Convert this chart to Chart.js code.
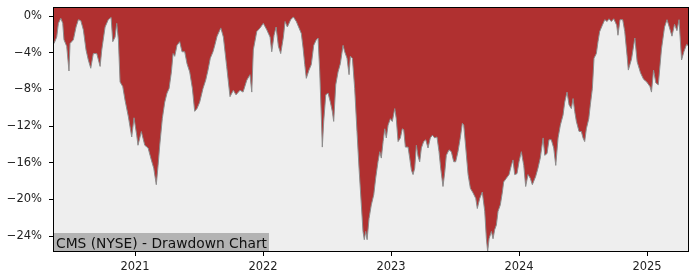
<!DOCTYPE html>
<html>
<head>
<meta charset="utf-8">
<script src="https://cdn.jsdelivr.net/npm/chart.js@4"></script>
<style>
  body { margin: 0; background: #fff; }
</style>
</head>
<body>
<canvas id="myChart" width="700" height="280"></canvas>
<script>
// dates as decimal years, drawdown in percent
const dates = [
  2020.367, 2020.388, 2020.401, 2020.420, 2020.435, 2020.445, 2020.466, 2020.484, 2020.492, 2020.518,
  2020.539, 2020.557, 2020.576, 2020.596, 2020.617, 2020.635, 2020.654, 2020.674, 2020.701, 2020.727,
  2020.740, 2020.766, 2020.791, 2020.813, 2020.826, 2020.844, 2020.857, 2020.870, 2020.883, 2020.904,
  2020.922, 2020.948, 2020.974, 2020.992, 2021.013, 2021.023, 2021.049, 2021.076, 2021.102, 2021.127,
  2021.146, 2021.166, 2021.180, 2021.193, 2021.213, 2021.232, 2021.250, 2021.266, 2021.284, 2021.297,
  2021.310, 2021.328, 2021.349, 2021.367, 2021.388, 2021.406, 2021.427, 2021.448, 2021.466, 2021.484,
  2021.505, 2021.531, 2021.552, 2021.570, 2021.588, 2021.609, 2021.623, 2021.641, 2021.670, 2021.690,
  2021.716, 2021.742, 2021.768, 2021.789, 2021.820, 2021.844, 2021.873, 2021.898, 2021.912, 2021.924,
  2021.951, 2021.977, 2022.002, 2022.029, 2022.055, 2022.068, 2022.086, 2022.102, 2022.120, 2022.138,
  2022.159, 2022.172, 2022.190, 2022.216, 2022.237, 2022.260, 2022.281, 2022.299, 2022.313, 2022.326,
  2022.338, 2022.359, 2022.377, 2022.396, 2022.416, 2022.430, 2022.443, 2022.455, 2022.463, 2022.474,
  2022.490, 2022.508, 2022.526, 2022.541, 2022.552, 2022.568, 2022.586, 2022.604, 2022.625, 2022.638,
  2022.656, 2022.672, 2022.682, 2022.698, 2022.716, 2022.734, 2022.750, 2022.768, 2022.781, 2022.791,
  2022.802, 2022.813, 2022.828, 2022.846, 2022.865, 2022.880, 2022.898, 2022.912, 2022.924, 2022.938,
  2022.951, 2022.963, 2022.977, 2022.995, 2023.010, 2023.029, 2023.041, 2023.055, 2023.073, 2023.088,
  2023.099, 2023.112, 2023.133, 2023.146, 2023.159, 2023.172, 2023.185, 2023.198, 2023.211, 2023.224,
  2023.237, 2023.255, 2023.271, 2023.289, 2023.307, 2023.323, 2023.341, 2023.359, 2023.375, 2023.388,
  2023.406, 2023.420, 2023.432, 2023.453, 2023.471, 2023.490, 2023.505, 2023.523, 2023.541, 2023.557,
  2023.568, 2023.584, 2023.602, 2023.620, 2023.641, 2023.662, 2023.674, 2023.693, 2023.713, 2023.732,
  2023.745, 2023.755, 2023.766, 2023.784, 2023.797, 2023.810, 2023.823, 2023.836, 2023.854, 2023.870,
  2023.880, 2023.901, 2023.922, 2023.940, 2023.953, 2023.966, 2023.984, 2024.000, 2024.018, 2024.037,
  2024.052, 2024.070, 2024.088, 2024.104, 2024.130, 2024.148, 2024.166, 2024.188, 2024.201, 2024.219,
  2024.234, 2024.252, 2024.271, 2024.287, 2024.305, 2024.323, 2024.344, 2024.357, 2024.375, 2024.391,
  2024.409, 2024.422, 2024.435, 2024.448, 2024.469, 2024.487, 2024.500, 2024.513, 2024.526, 2024.545,
  2024.557, 2024.573, 2024.586, 2024.604, 2024.617, 2024.630, 2024.651, 2024.670, 2024.688, 2024.703,
  2024.721, 2024.740, 2024.763, 2024.773, 2024.789, 2024.810, 2024.826, 2024.844, 2024.854, 2024.879,
  2024.905, 2024.923, 2024.949, 2024.973, 2024.998, 2025.023, 2025.035, 2025.051, 2025.069, 2025.088,
  2025.113, 2025.137, 2025.156, 2025.176, 2025.195, 2025.215, 2025.234, 2025.250, 2025.270, 2025.288,
  2025.309, 2025.328
];
const drawdown = [
  -3.0, -2.3, -0.8, -0.25, -0.8, -2.6, -3.3, -6.0, -3.0, -2.6,
  -1.2, -0.4, -0.5, -1.5, -3.7, -4.8, -5.7, -4.1, -4.1, -5.5,
  -3.7, -1.2, -0.4, -0.15, -2.8, -2.3, -0.8, -2.6, -7.2, -7.7,
  -9.2, -11.0, -13.2, -11.1, -13.0, -14.1, -12.6, -14.1, -14.4, -15.7,
  -16.6, -18.4, -16.3, -14.1, -11.2, -9.4, -8.4, -7.9, -6.1, -4.1,
  -4.4, -3.2, -2.8, -3.9, -3.9, -5.2, -6.1, -7.9, -10.4, -10.1,
  -9.4, -7.9, -7.0, -5.9, -4.6, -3.9, -3.2, -2.2, -1.3, -2.3,
  -5.5, -8.8, -8.1, -8.6, -8.1, -8.3, -7.0, -6.4, -8.3, -3.7,
  -1.7, -1.3, -0.8, -1.5, -2.3, -3.9, -2.1, -1.2, -3.3, -4.1,
  -2.3, -0.6, -1.2, -0.4, -0.1, -0.6, -1.3, -1.9, -3.5, -5.3,
  -6.8, -5.9, -5.3, -3.2, -2.6, -2.4, -6.1, -10.8, -14.3, -11.5,
  -8.6, -8.4, -9.4, -10.4, -11.5, -7.5, -6.1, -5.2, -3.2, -3.9,
  -4.6, -6.4, -4.4, -4.6, -7.9, -12.6, -16.6, -20.6, -23.5, -24.4,
  -23.5, -24.4, -22.1, -20.6, -19.5, -17.7, -15.9, -14.8, -15.5, -13.7,
  -12.3, -13.3, -11.9, -11.2, -11.5, -10.1, -11.2, -13.7, -13.3, -12.3,
  -12.4, -14.3, -14.3, -15.5, -16.8, -17.3, -16.6, -14.1, -15.3, -15.9,
  -14.4, -13.7, -13.5, -14.4, -13.3, -13.0, -13.3, -13.2, -14.8, -16.6,
  -18.6, -17.0, -15.2, -14.6, -14.8, -15.9, -15.9, -14.8, -13.3, -11.7,
  -11.9, -14.4, -17.3, -18.8, -19.3, -19.9, -21.0, -19.9, -19.2, -21.3,
  -24.3, -25.7, -24.3, -23.5, -24.3, -23.3, -22.8, -21.3, -20.6, -19.2,
  -18.1, -17.7, -17.3, -16.3, -15.7, -17.3, -17.2, -15.9, -14.8, -16.3,
  -18.6, -17.3, -17.7, -18.4, -17.5, -16.6, -15.5, -13.3, -15.2, -15.0,
  -13.5, -13.5, -14.4, -16.3, -13.3, -11.9, -10.8, -9.4, -8.3, -9.7,
  -10.1, -9.0, -10.4, -11.5, -12.6, -12.6, -13.3, -13.7, -12.3, -11.2,
  -9.7, -7.9, -4.6, -4.1, -2.8, -1.7, -1.0, -0.4, -0.6, -0.3,
  -0.6, -0.3, -1.0, -2.1, -0.4, -0.4, -1.7, -4.3, -5.9, -4.7,
  -2.4, -5.0, -6.2, -6.9, -7.2, -7.7, -8.3, -5.9, -7.3, -7.5,
  -3.6, -1.2, -0.4, -1.3, -2.2, -0.9, -1.6, -0.4, -4.8, -3.9,
  -3.1, -3.3
];
const yTicks = [0, -4, -8, -12, -16, -20, -24];
const xTicks = [2021, 2022, 2023, 2024, 2025];
const title = 'CMS (NYSE) - Drawdown Chart';

const points = dates.map((d, i) => ({ x: d, y: drawdown[i] }));

const frame = {
  id: 'frame',
  beforeDraw(chart) {
    const { ctx, chartArea: a } = chart;
    ctx.save();
    ctx.fillStyle = '#eeeeee';
    ctx.fillRect(a.left, a.top, a.right - a.left, a.bottom - a.top);
    ctx.restore();
  },
  afterDraw(chart) {
    const { ctx, chartArea: a } = chart;
    ctx.save();
    // label box bottom left
    ctx.font = '13.8px "DejaVu Sans"';
    const w = ctx.measureText(title).width;
    ctx.fillStyle = '#b3b3b3';
    ctx.fillRect(a.left, a.bottom - 19, w + 5, 19);
    ctx.fillStyle = '#111';
    ctx.textBaseline = 'alphabetic';
    ctx.fillText(title, a.left + 3, a.bottom - 4.5);
    // frame
    ctx.strokeStyle = '#000';
    ctx.lineWidth = 1;
    ctx.strokeRect(a.left + 0.5, a.top + 0.5, a.right - a.left - 1, a.bottom - a.top - 1);
    ctx.restore();
  }
};

const config = {
  type: 'line',
  data: {
    datasets: [{
      data: points,
      fill: 'end',
      backgroundColor: '#b03030',
      borderColor: '#8c8c8c',
      borderWidth: 1,
      pointRadius: 0,
      tension: 0
    }]
  },
  options: {
    responsive: false,
    animation: false,
    devicePixelRatio: 1,
    layout: { padding: { top: 7, right: 11, left: 0, bottom: 0 } },
    plugins: { legend: { display: false }, tooltip: { enabled: false } },
    scales: {
      x: {
        type: 'linear',
        min: 2020.359,
        max: 2025.328,
        afterBuildTicks: s => { s.ticks = xTicks.map(v => ({ value: v })); },
        afterFit: s => { s.height = 28; s.paddingLeft = 0; s.paddingRight = 0; },
        border: { display: false },
        grid: { drawOnChartArea: false, color: '#000', tickLength: 4 },
        ticks: {
          color: '#222',
          font: { family: 'DejaVu Sans', size: 11.5 },
          padding: 4,
          maxRotation: 0,
          callback: v => String(v)
        }
      },
      y: {
        min: -25.745,
        max: 0.982,
        afterBuildTicks: s => { s.ticks = yTicks.map(v => ({ value: v })); },
        afterFit: s => { s.width = 53; s.paddingTop = 0; s.paddingBottom = 0; },
        border: { display: false },
        grid: { drawOnChartArea: false, color: '#000', tickLength: 4 },
        ticks: {
          color: '#222',
          font: { family: 'DejaVu Sans', size: 11.5 },
          padding: 7,
          callback: v => (v < 0 ? '\u2212' + Math.abs(v) : v) + '%'
        }
      }
    }
  },
  plugins: [frame]
};

var myChart = new Chart(document.getElementById('myChart'), config);
</script>
</body>
</html>
